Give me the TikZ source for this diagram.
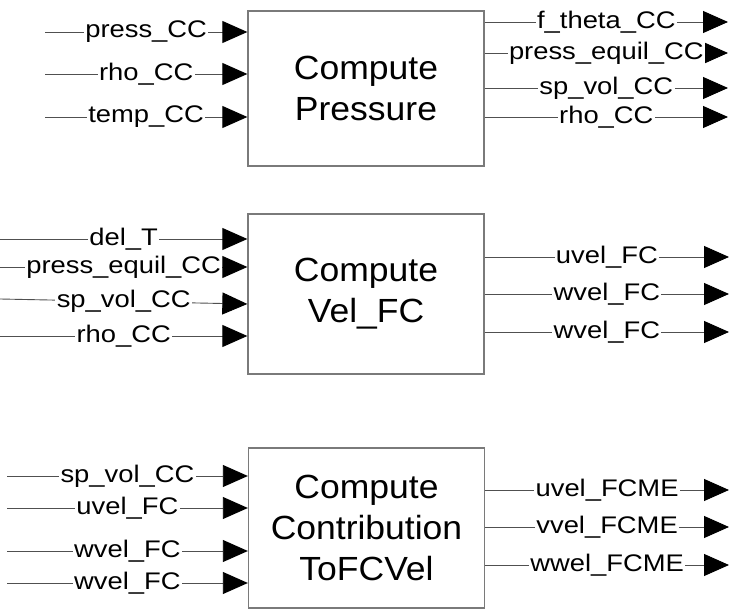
\documentclass[tikz,border=0pt]{standalone}
\usepackage{fontspec}
\setmainfont{Liberation Sans}
\usetikzlibrary{arrows.meta,calc}
\definecolor{blkLine}{HTML}{505050}
\definecolor{blkFrame}{HTML}{7A7A7A}
\begin{document}
\begin{tikzpicture}[x=1pt,y=-1pt,line cap=butt,line join=miter]
\path[fill=white] (0,0) rectangle (734,609);
\useasboundingbox (0,0) rectangle (734,609);
\tikzset{blk/.style={draw=blkFrame,line width=1.3pt,minimum width=222.6pt,align=center,inner sep=0pt,font=\fontsize{33.5}{41}\selectfont,xscale=1.06},sig/.style={draw=blkLine,line width=0.9pt,-{Triangle[length=25pt,width=22pt,color=black]}},lbl/.style={fill=white,inner sep=1.2pt,text=black,font=\fontsize{24}{27}\selectfont,xscale=1.14}}
\node[blk,minimum height=155pt] (pres) at (366,88.5) {Compute\\Pressure};
\node[blk,minimum height=160pt] (velfc) at (366,294) {Compute\\Vel\_FC};
\node[blk,minimum height=160pt] (contrib) at (366.5,528) {Compute\\Contribution\\ToFCVel};
\coordinate (pi1) at (45,32); \coordinate (pi2) at (45,74); \coordinate (pi3) at (45,117);
\draw[sig] (pi1) -- node[lbl] {press\_CC} (pi1 -| pres.west);
\draw[sig] (pi2) -- node[lbl] {rho\_CC} (pi2 -| pres.west);
\draw[sig] (pi3) -- node[lbl] {temp\_CC} (pi3 -| pres.west);
\coordinate (po1) at (728,22); \coordinate (po2) at (728,53); \coordinate (po3) at (728,88); \coordinate (po4) at (728,117);
\draw[sig] (pres.east |- po1) -- node[lbl] {f\_theta\_CC} (po1);
\draw[sig] (pres.east |- po2) -- node[lbl] {press\_equil\_CC} (po2);
\draw[sig] (pres.east |- po3) -- node[lbl] {sp\_vol\_CC} (po3);
\draw[sig] (pres.east |- po4) -- node[lbl] {rho\_CC} (po4);
\coordinate (vi1) at (0,239); \coordinate (vi2) at (0,267); \coordinate (vi3) at (0,299); \coordinate (vi4) at (0,336);
\draw[sig] (vi1) -- node[lbl] {del\_T} (vi1 -| velfc.west);
\draw[sig] (vi2) -- node[lbl] {press\_equil\_CC} (vi2 -| velfc.west);
\draw[sig] (vi3) -- node[lbl] {sp\_vol\_CC} ($(vi3 -| velfc.west)+(0,5)$);
\draw[sig] (vi4) -- node[lbl] {rho\_CC} (vi4 -| velfc.west);
\coordinate (vo1) at (729,257); \coordinate (vo2) at (729,294); \coordinate (vo3) at (729,332);
\draw[sig] (velfc.east |- vo1) -- node[lbl] {uvel\_FC} (vo1);
\draw[sig] (velfc.east |- vo2) -- node[lbl] {wvel\_FC} (vo2);
\draw[sig] (velfc.east |- vo3) -- node[lbl] {wvel\_FC} (vo3);
\coordinate (ci1) at (7,476); \coordinate (ci2) at (7,508); \coordinate (ci3) at (7,551); \coordinate (ci4) at (7,583);
\draw[sig] (ci1) -- node[lbl] {sp\_vol\_CC} (ci1 -| contrib.west);
\draw[sig] (ci2) -- node[lbl] {uvel\_FC} (ci2 -| contrib.west);
\draw[sig] (ci3) -- node[lbl] {wvel\_FC} (ci3 -| contrib.west);
\draw[sig] (ci4) -- node[lbl] {wvel\_FC} (ci4 -| contrib.west);
\coordinate (co1) at (729,490); \coordinate (co2) at (729,527); \coordinate (co3) at (729,565);
\draw[sig] (contrib.east |- co1) -- node[lbl] {uvel\_FCME} (co1);
\draw[sig] (contrib.east |- co2) -- node[lbl] {vvel\_FCME} (co2);
\draw[sig] (contrib.east |- co3) -- node[lbl] {wwel\_FCME} (co3);
\end{tikzpicture}
\end{document}
